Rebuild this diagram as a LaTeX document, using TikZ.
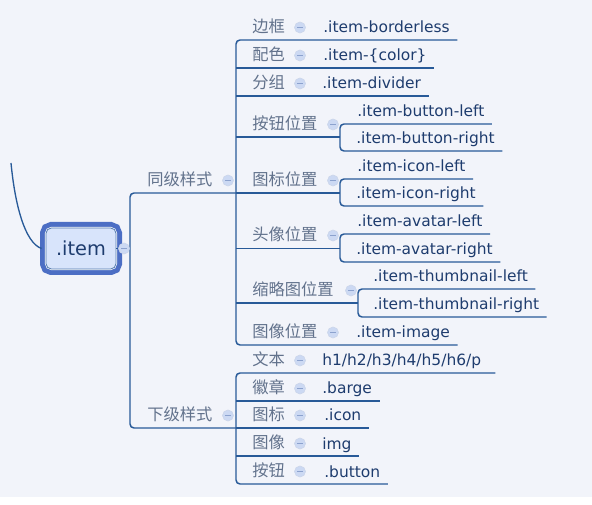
\documentclass[tikz,border=0pt]{standalone}
\usepackage{fontspec}
\setmainfont{DejaVu Sans}
\newfontfamily\cjk{Noto Sans CJK SC}
\usepackage{tikz}
\usepackage{xcolor}
\usetikzlibrary{positioning}

\definecolor{bgcol}{RGB}{242,244,250}
\definecolor{linecol}{RGB}{40,90,152}
\definecolor{cncol}{RGB}{98,114,140}
\definecolor{encol}{RGB}{30,60,110}
\definecolor{dotfill}{RGB}{204,217,243}
\definecolor{dotline}{RGB}{140,162,206}
\definecolor{ringcol}{RGB}{76,110,196}
\definecolor{rootfill}{RGB}{216,228,251}

\begin{document}
\begin{tikzpicture}[x=0.75pt,y=-0.75pt,
  branch/.style={linecol,line width=1.1pt,rounded corners=3pt},
  cnlabel/.style={anchor=base west,inner sep=0pt,text=cncol,font=\cjk\fontsize{12.2}{14}\selectfont},
  enlabel/.style={anchor=base west,inner ysep=0pt,inner xsep=5.5pt,text=encol,font=\fontsize{11.6}{14}\selectfont},
  fold/.style={circle,fill=dotfill,draw=dotline!45,line width=0.4pt,minimum size=8.3pt,inner sep=0pt,
    path picture={\draw[dotline,line width=0.8pt] ([xshift=-2.1pt]path picture bounding box.center) -- ([xshift=2.1pt]path picture bounding box.center);}}]
\fill[bgcol] (0,0) rectangle (592,497);
\fill[white] (0,497) rectangle (592,505);
\useasboundingbox (0,0) rectangle (592,505);

% root
\node[draw=linecol!80,line width=0.6pt,fill=rootfill,rounded corners=4pt,
  minimum width=52.5pt,minimum height=30.75pt,inner sep=0pt,text=encol,font=\fontsize{14.5}{16}\selectfont,
  preaction={draw=ringcol,line width=9pt},preaction={draw=white,line width=1.6pt}] (root) at (81,248.5) {.item};
\coordinate (up) at (11,163);
\draw[linecol,line width=1pt] (up) .. controls (15,205) and (25,243) .. ([xshift=-3pt]root.west);

% main branches
\coordinate (mainj) at (130,248.5);
\coordinate (m-top) at (130,193);
\coordinate (m-bot) at (130,428);
\coordinate (tj-j) at (236,193);
\coordinate (xj-j) at (236,428);
\draw[branch] (root.east) -- (mainj);
\draw[branch] (tj-j) -- (m-top) -- (m-bot) -- (xj-j);
\node[fold] (rootf) at (124,248.5) {};
\node[cnlabel] (tj) at (147,185.5) {同级样式};
\node[fold] (tjf) at (228,180.5) {};
\node[cnlabel] (xj) at (147,420.5) {下级样式};
\node[fold] (xjf) at (228,415.5) {};

% 同级样式
\node[cnlabel] (bk) at (252,32.5) {边框};
\node[fold] (bkf) at (300,27.5) {};
\node[enlabel] (bke) at (315.7,33) {.item-borderless};
\node[cnlabel] (ps) at (252,60.5) {配色};
\node[fold] (psf) at (300,55.5) {};
\node[enlabel] (pse) at (315.7,61) {.item-\{color\}};
\node[cnlabel] (fz) at (252,88.5) {分组};
\node[fold] (fzf) at (300,83.5) {};
\node[enlabel] (fze) at (314.7,89) {.item-divider};
\node[cnlabel] (an) at (252,129.5) {按钮位置};
\node[fold] (anf) at (333,124.5) {};
\node[enlabel] (anl) at (349.7,117) {.item-button-left};
\node[enlabel] (anr) at (348.7,144) {.item-button-right};
\node[cnlabel] (tb) at (252,185.5) {图标位置};
\node[fold] (tbf) at (333,180.5) {};
\node[enlabel] (tbl) at (349.7,172) {.item-icon-left};
\node[enlabel] (tbr) at (348.7,199) {.item-icon-right};
\node[cnlabel] (tx) at (252,240.5) {头像位置};
\node[fold] (txf) at (333,235.5) {};
\node[enlabel] (txl) at (349.7,227) {.item-avatar-left};
\node[enlabel] (txr) at (348.7,255) {.item-avatar-right};
\node[cnlabel] (sl) at (252,295.5) {缩略图位置};
\node[fold] (slf) at (351,290.5) {};
\node[enlabel] (sll) at (365.7,282) {.item-thumbnail-left};
\node[enlabel] (slr) at (365.7,310) {.item-thumbnail-right};
\node[cnlabel] (tw) at (252,337.5) {图像位置};
\node[fold] (twf) at (333,332.5) {};
\node[enlabel] (twe) at (348.7,338) {.item-image};

\coordinate (tj-top) at (236,40);
\coordinate (tj-bot) at (236,345);
\coordinate (ps-j) at (236,68);
\coordinate (fz-j) at (236,96);
\coordinate (an-j) at (236,137);
\coordinate (tx-j) at (236,248.5);
\coordinate (sl-j) at (236,303);
\draw[branch] (tj-top -| bke.east) -- (tj-top) -- (tj-bot) -- (tj-bot -| twe.east);
\draw[branch] (ps-j) -- (ps-j -| pse.east);
\draw[branch] (fz-j) -- (fz-j -| fze.east);

\coordinate (an-s) at (340,137);
\coordinate (an-t) at (340,124);
\coordinate (an-b) at (340,151);
\draw[branch] (an-j) -- (an-s);
\draw[branch] (an-t -| anl.east) -- (an-t) -- (an-b) -- (an-b -| anr.east);
\coordinate (tb-s) at (340,193);
\coordinate (tb-t) at (340,179);
\coordinate (tb-b) at (340,206);
\draw[branch] (tj-j) -- (tb-s);
\draw[branch] (tb-t -| tbl.east) -- (tb-t) -- (tb-b) -- (tb-b -| tbr.east);
\coordinate (tx-s) at (340,248.5);
\coordinate (tx-t) at (340,234);
\coordinate (tx-b) at (340,262);
\draw[branch] (tx-j) -- (tx-s);
\draw[branch] (tx-t -| txl.east) -- (tx-t) -- (tx-b) -- (tx-b -| txr.east);
\coordinate (sl-s) at (358,303);
\coordinate (sl-t) at (358,289);
\coordinate (sl-b) at (358,317);
\draw[branch] (sl-j) -- (sl-s);
\draw[branch] (sl-t -| sll.east) -- (sl-t) -- (sl-b) -- (sl-b -| slr.east);

% 下级样式
\node[cnlabel] (wb) at (252,365.5) {文本};
\node[fold] (wbf) at (300,360.5) {};
\node[enlabel,inner xsep=10.5pt] (wbe) at (308,366) {h1/h2/h3/h4/h5/h6/p};
\node[cnlabel] (hz) at (252,393.5) {徽章};
\node[fold] (hzf) at (300,388.5) {};
\node[enlabel] (hze) at (314.7,394) {.barge};
\node[cnlabel] (tb2) at (252,420.5) {图标};
\node[fold] (tb2f) at (300,415.5) {};
\node[enlabel] (tb2e) at (316.7,421) {.icon};
\node[cnlabel] (tx3) at (252,448.5) {图像};
\node[fold] (tx3f) at (300,443.5) {};
\node[enlabel] (tx3e) at (314.7,449) {img};
\node[cnlabel] (an2) at (252,476.5) {按钮};
\node[fold] (an2f) at (300,471.5) {};
\node[enlabel] (an2e) at (316.7,477) {.button};

\coordinate (xj-top) at (236,373);
\coordinate (xj-bot) at (236,484);
\coordinate (hz-j) at (236,401);
\coordinate (tx3-j) at (236,456);
\draw[branch] (xj-top -| wbe.east) -- (xj-top) -- (xj-bot) -- (xj-bot -| an2e.east);
\draw[branch] (hz-j) -- (hz-j -| hze.east);
\draw[branch] (xj-j) -- (xj-j -| tb2e.east);
\draw[branch] (tx3-j) -- (tx3-j -| tx3e.east);
\end{tikzpicture}
\end{document}
